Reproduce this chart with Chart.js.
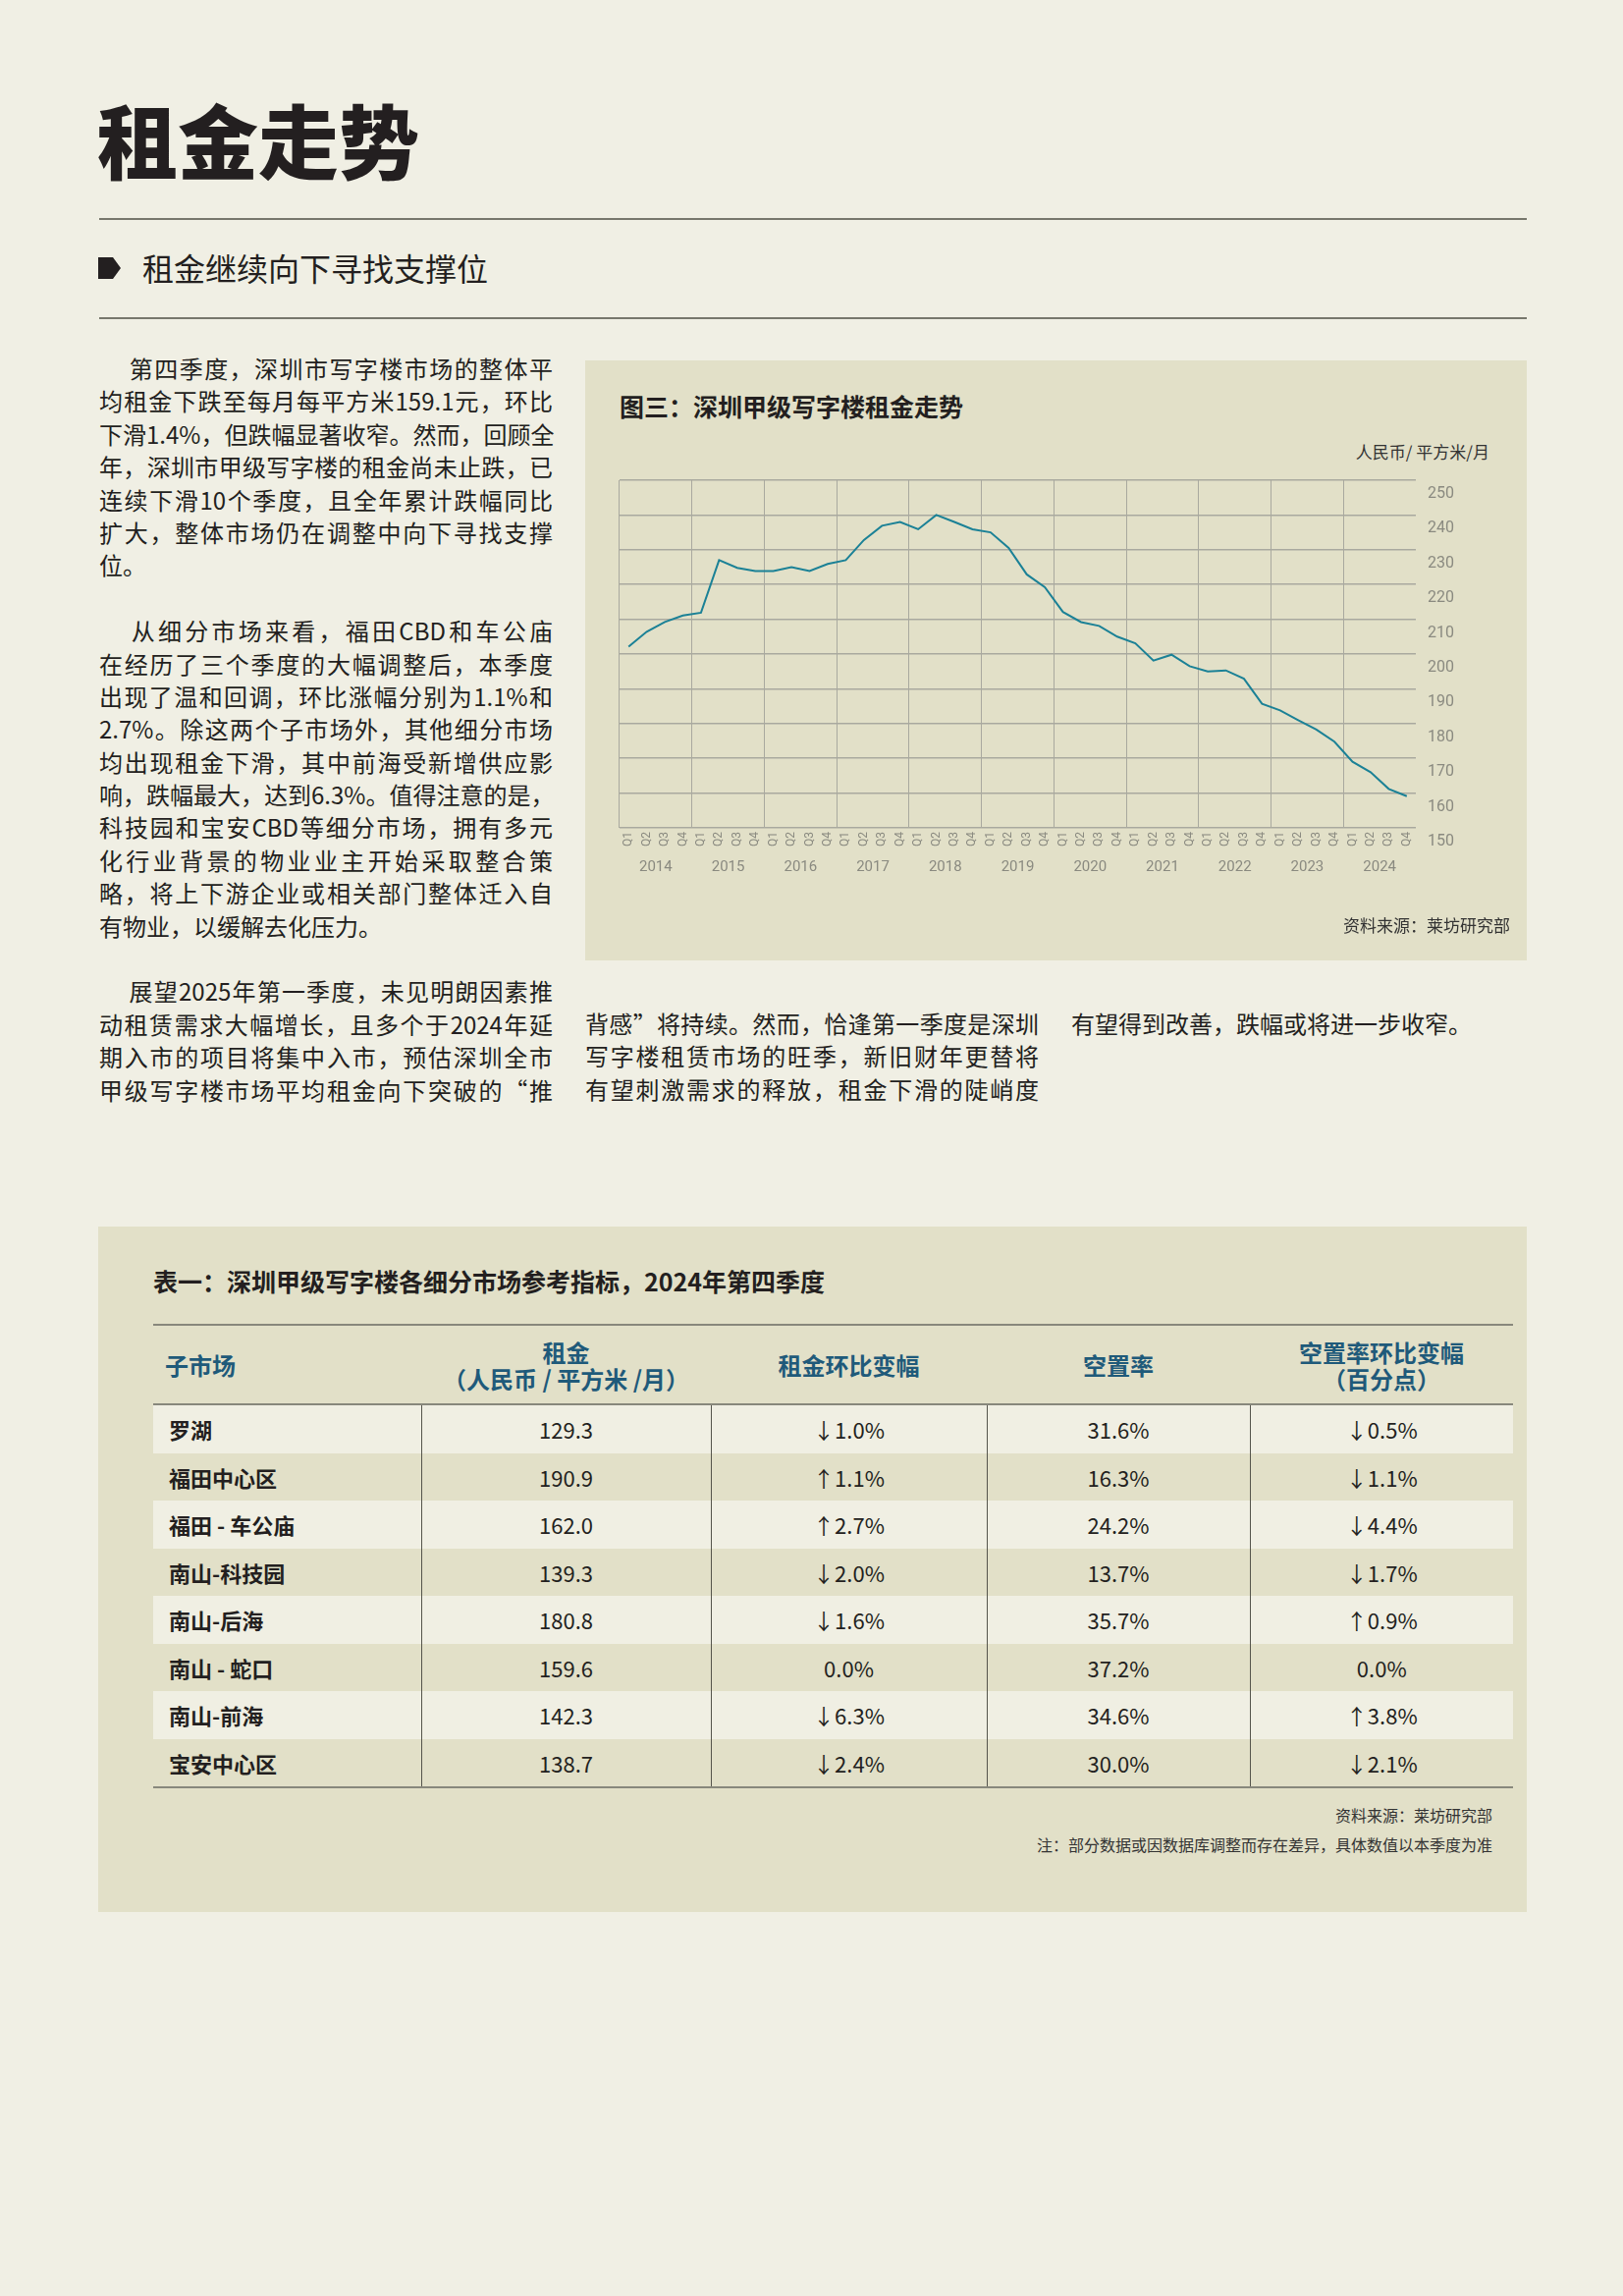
<!DOCTYPE html>
<html><head><meta charset="utf-8">
<script src="https://cdn.jsdelivr.net/npm/chart.js@4.4.1/dist/chart.umd.min.js"></script>
<style>
body{margin:0;width:1653px;height:2338px;background:#f0efe4;font-family:"Noto Sans CJK SC",sans-serif;color:#231f20;position:relative;overflow:hidden}
.abs{position:absolute}
.rule{position:absolute;left:101px;width:1454px;height:2px;background:#77776c}
.p div{height:33.4px;line-height:33.4px;font-size:24px;text-align:justify;text-align-last:justify;white-space:nowrap}
.p div.l{text-align-last:left}
.box{position:absolute;background:#e2e0c8}
table{border-collapse:collapse;position:absolute;left:156px;top:1348px;width:1364px;font-size:22px;table-layout:fixed}
th{color:#1f5a7a;font-size:24px;font-weight:bold;line-height:27px;height:77px;border-top:2px solid #88887c;border-bottom:2px solid #88887c;text-align:center}
td{height:48.5px;text-align:center;border-left:1.5px solid #55554c;padding:0}
td:first-child{border-left:none;text-align:left;padding-left:16px;font-weight:bold}
th:first-child{text-align:left;padding-left:12px}
tr.lt td{background:#f0efe3}
tr:last-child td{border-bottom:2px solid #88887c}
</style></head><body>
<div class="abs" style="left:99px;top:86px;font-size:82px;font-weight:900;line-height:110px">租金走势</div>
<div class="rule" style="top:222px"></div>
<svg class="abs" style="left:100px;top:262px" width="24" height="22"><polygon points="0,0 15,0 23,11 15,22 0,22" fill="#231f20"/></svg>
<div class="abs" style="left:145px;top:250px;font-size:32px;line-height:44px">租金继续向下寻找支撑位</div>
<div class="rule" style="top:323px"></div>

<div class="abs p" style="left:101px;top:358px;width:462px">
<div>&emsp;&nbsp;第四季度，深圳市写字楼市场的整体平</div>
<div>均租金下跌至每月每平方米159.1元，环比</div>
<div>下滑1.4%，但跌幅显著收窄。然而，回顾全</div>
<div>年，深圳市甲级写字楼的租金尚未止跌，已</div>
<div>连续下滑10个季度，且全年累计跌幅同比</div>
<div>扩大，整体市场仍在调整中向下寻找支撑</div>
<div class="l">位。</div>
<div class="l"></div>
<div>&emsp;&nbsp;从细分市场来看，福田CBD和车公庙</div>
<div>在经历了三个季度的大幅调整后，本季度</div>
<div>出现了温和回调，环比涨幅分别为1.1%和</div>
<div>2.7%。除这两个子市场外，其他细分市场</div>
<div>均出现租金下滑，其中前海受新增供应影</div>
<div>响，跌幅最大，达到6.3%。值得注意的是，</div>
<div>科技园和宝安CBD等细分市场，拥有多元</div>
<div>化行业背景的物业业主开始采取整合策</div>
<div>略，将上下游企业或相关部门整体迁入自</div>
<div class="l">有物业，以缓解去化压力。</div>
<div class="l"></div>
<div>&emsp;&nbsp;展望2025年第一季度，未见明朗因素推</div>
<div>动租赁需求大幅增长，且多个于2024年延</div>
<div>期入市的项目将集中入市，预估深圳全市</div>
<div>甲级写字楼市场平均租金向下突破的“推</div>
</div>
<div class="abs p" style="left:596px;top:1025px;width:462px">
<div>背感”将持续。然而，恰逢第一季度是深圳</div>
<div>写字楼租赁市场的旺季，新旧财年更替将</div>
<div>有望刺激需求的释放，租金下滑的陡峭度</div>
</div>
<div class="abs p" style="left:1091px;top:1025px;width:462px">
<div class="l">有望得到改善，跌幅或将进一步收窄。</div>
</div>

<div class="box" style="left:596px;top:367px;width:959px;height:611px">
<div class="abs" style="left:35px;top:28px;font-size:25px;font-weight:bold">图三：深圳甲级写字楼租金走势</div>
<div class="abs" style="right:38px;top:80px;font-size:17px;color:#333">人民币/ 平方米/月</div>
<canvas id="c" class="abs" style="left:0;top:0" width="959" height="611"></canvas>
<div class="abs" style="right:17px;top:562px;font-size:17px;color:#333">资料来源：莱坊研究部</div>
</div>

<div class="box" style="left:100px;top:1249px;width:1455px;height:698px"></div>
<div class="abs" style="left:156px;top:1286px;font-size:25px;font-weight:bold">表一：深圳甲级写字楼各细分市场参考指标，2024年第四季度</div>
<table id="t"></table>
<div class="abs" style="right:133px;top:1836px;font-size:16px;color:#333">资料来源：莱坊研究部</div>
<div class="abs" style="right:133px;top:1866px;font-size:16px;color:#333">注：部分数据或因数据库调整而存在差异，具体数值以本季度为准</div>

<script>
const years=['2014','2015','2016','2017','2018','2019','2020','2021','2022','2023','2024'];
const quarters=['Q1','Q2','Q3','Q4'];
const rent=[202.1,206.4,209.2,211.1, 211.9,227.0,224.8,223.9, 223.9,225.0,223.9,225.9,
 227.0,232.8,236.9,238.0, 235.9,240.0,238.0,235.9, 235.0,230.5,222.9,219.2,
 212.1,209.2,208.1,205.0, 203.1,198.1,199.8,196.5, 195.0,195.3,192.9,185.7,
 183.8,181.0,178.3,174.8, 169.0,166.0,161.2,159.1];
const yTicks=[150,160,170,180,190,200,210,220,230,240,250];

const tableHead=['子市场','租金<br>（人民币 / 平方米 /月）','租金环比变幅','空置率','空置率环比变幅<br>（百分点）'];
const markets=['罗湖','福田中心区','福田 - 车公庙','南山-科技园','南山-后海','南山 - 蛇口','南山-前海','宝安中心区'];
const rents=['129.3','190.9','162.0','139.3','180.8','159.6','142.3','138.7'];
const rentChg=['↓1.0%','↑1.1%','↑2.7%','↓2.0%','↓1.6%','0.0%','↓6.3%','↓2.4%'];
const vacancy=['31.6%','16.3%','24.2%','13.7%','35.7%','37.2%','34.6%','30.0%'];
const vacChg=['↓0.5%','↓1.1%','↓4.4%','↓1.7%','↑0.9%','0.0%','↑3.8%','↓2.1%'];

const widths=[260,293,279,266,266];
let h='<tr>'+tableHead.map((x,i)=>`<th style="width:${widths[i]}px">${x}</th>`).join('')+'</tr>';
markets.forEach((m,i)=>{h+=`<tr class="${i%2==0?'lt':''}"><td>${m}</td><td>${rents[i]}</td><td>${rentChg[i]}</td><td>${vacancy[i]}</td><td>${vacChg[i]}</td></tr>`;});
document.getElementById('t').innerHTML=h;

const labels=[];years.forEach(y=>quarters.forEach(q=>labels.push(q)));
const grid='#a9a99f';
new Chart(document.getElementById('c'),{
 type:'line',
 data:{labels,datasets:[{data:rent,borderColor:'#1b8196',borderWidth:2,pointRadius:0,tension:0,fill:false}]},
 options:{responsive:false,animation:false,
  layout:{padding:{left:35,top:122,right:62,bottom:86}},
  plugins:{legend:{display:false},tooltip:{enabled:false}},
  scales:{
   x:{type:'category',offset:true,
     grid:{offset:true,color:c=>c.index%4===0?grid:'transparent',lineWidth:1,drawTicks:false},
     border:{display:false},
     ticks:{minRotation:90,maxRotation:90,autoSkip:false,color:'#8a8a80',font:{size:12,family:'Roboto'},padding:4}},
   yr:{type:'linear',position:'bottom',min:-0.5,max:43.5,
     afterBuildTicks:s=>{s.ticks=years.map((y,i)=>({value:1.5+4*i}));},
     grid:{display:false},border:{display:false},
     ticks:{callback:(v)=>years[Math.round((v-1.5)/4)],color:'#8a8a80',font:{size:15,family:'Roboto'},padding:0,maxRotation:0,autoSkip:false}},
   y:{position:'right',min:150,max:250,
     afterBuildTicks:s=>{s.ticks=yTicks.map(v=>({value:v}));},
     grid:{color:grid,lineWidth:1.5,drawTicks:false},border:{display:false},
     ticks:{color:'#8a8a80',font:{size:16,family:'Roboto'},padding:12,labelOffset:14}}
  }}
});
</script>
</body></html>
